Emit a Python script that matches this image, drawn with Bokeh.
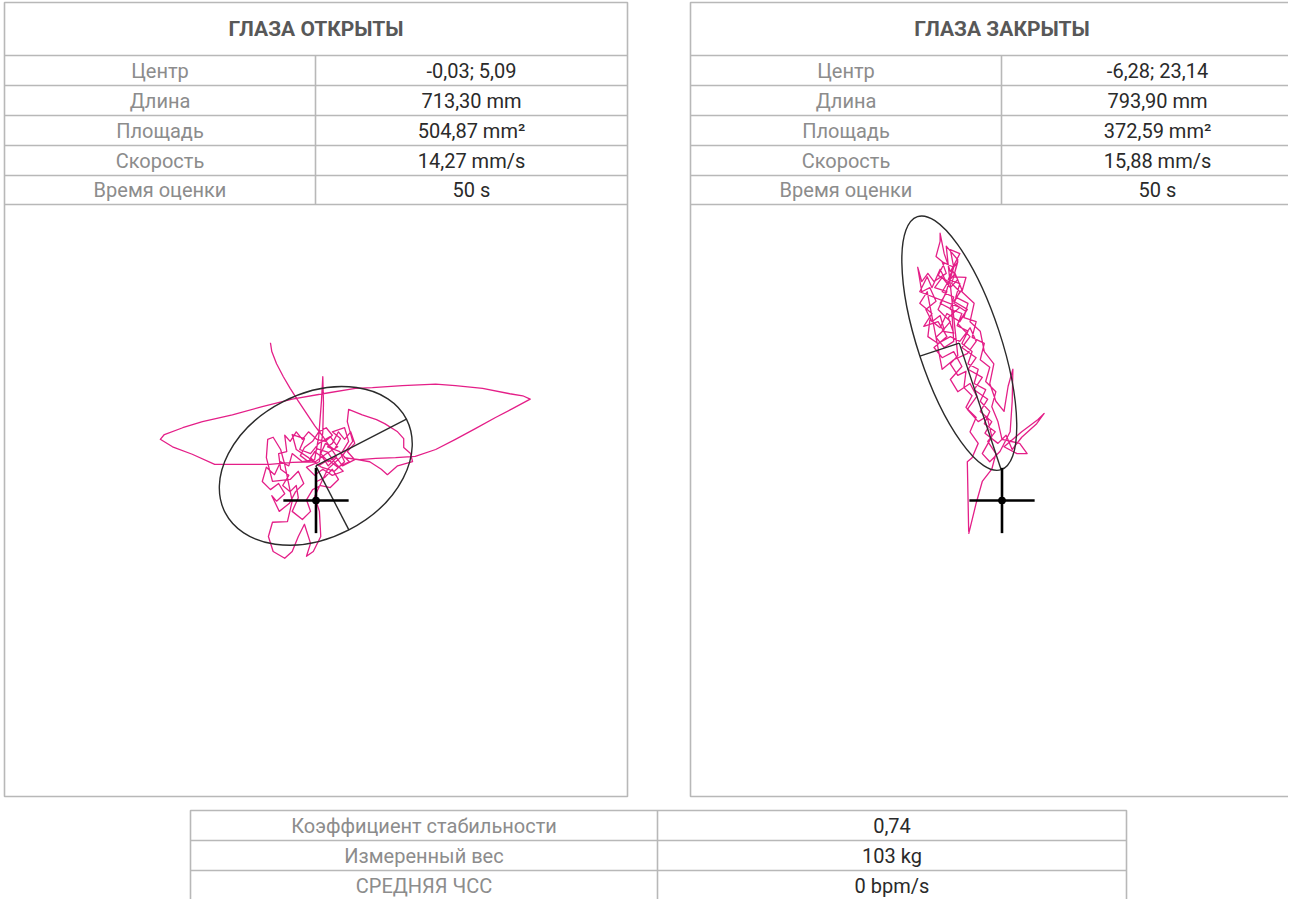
import numpy as np
from bokeh.plotting import figure
from bokeh.models import Range1d
from bokeh.embed import file_html
from bokeh.resources import INLINE
from bokeh.core.properties import value

# ---------------- data ----------------
panel_titles = ["ГЛАЗА ОТКРЫТЫ", "ГЛАЗА ЗАКРЫТЫ"]
row_labels = ["Центр", "Длина", "Площадь", "Скорость", "Время оценки"]
open_values = ["-0,03; 5,09", "713,30 mm", "504,87 mm²", "14,27 mm/s", "50 s"]
closed_values = ["-6,28; 23,14", "793,90 mm", "372,59 mm²", "15,88 mm/s", "50 s"]
summary_labels = ["Коэффициент стабильности", "Измеренный вес", "СРЕДНЯЯ ЧСС"]
summary_values = ["0,74", "103 kg", "0 bpm/s"]

# confidence ellipses (mm): centre, semi-axes, angle of major axis (deg)
open_center = [-0.03, 5.09]
closed_center = [-6.28, 23.14]
open_axes = [15.0, 10.6, 27.3]
closed_axes = [19.6, 6.1, 108.3]

# centre-of-pressure trace (mm), eyes open
open_x = [
    -6.7, -6.5, -5.8, -4.8, -3.8, -2.6, -1.4, -0.2, 1.1, 2.1, 3.0,
    1.8, 0.7, 1.4, 2.7, 3.6, 2.4, 4.2, 4.8, 3.7, 4.9, 3.2, 1.8, 0.4, -0.8, 0.2, 1.7, 2.9, 4.0, 2.4, 1.0, -0.2, -1.4,
    0.5, 1.0, 1.1, 1.0, 0.8, 0.4, -0.2,
    -2.0, -3.5, -4.0, -5.2, -6.1, -7.3, -7.9, -6.7, -5.5, -4.6, -5.8, -6.5, -5.4, -3.9, -3.0, -1.8, -2.6, -3.8,
    -6.4, -7.3, -7.1, -6.3, -5.2, -4.6,
    -3.5, -4.2, -6.4, -7.0, -6.3, -4.6, -3.5, -2.6, -1.7, -0.8, -1.4, -0.4, 0.7, 0.5, -0.2,
    1.7, 3.9, 5.4, 4.6, 4.8, 6.8, 8.9, 10.1, 12.0, 12.9, 12.9, 13.9, 14.2, 12.0, 10.5, 9.6, 7.9, 6.1, 4.2,
    6.4, 8.8, 11.7, 14.6, 17.6, 20.5, 23.5, 26.4, 28.9, 31.5, 30.4, 28.5, 24.5, 20.5, 17.6, 12.7, 8.3, 5.8, 1.0,
    -3.5, -7.9, -12.3, -16.7, -19.6, -22.3, -22.9, -21.1, -18.2, -14.9, -10.8, -6.8, -3.5, -0.1,
    1.4, 3.2, 2.1, 0.4, -0.8, -2.4, -1.7, -3.5, -2.9, -1.1, 0.8, 2.7, 4.2, 3.5, 1.7,
    2.4, 3.3, 4.2, 5.1, 5.7, 4.6, 5.7, 3.9, 3.0, 1.8, 1.0, -0.2, -1.1, -2.3, -1.7,
    -0.5, 0.4, 1.5, 2.4, 1.4, 0.1, -1.1, -2.0, -2.9, -3.8, -4.6, -4.3, -5.5, -5.2, -4.0,
    -4.9, -3.8, -2.9, -2.6, -3.5, -2.0, -0.8, -1.4, -0.5, 0.7, 2.1, 3.3, 2.4, 1.3, 0.1,
]
open_y = [
    23.2, 21.9, 20.1, 18.2, 16.5, 14.6, 12.8, 11.0, 9.3, 7.8, 6.5,
    5.7, 6.9, 8.4, 7.5, 9.1, 10.1, 10.7, 8.7, 6.9, 5.7, 4.9, 6.0, 5.1, 6.3, 7.6, 7.1, 5.4, 4.3, 3.7, 4.6, 3.7, 4.9,
    5.7, 10.1, 14.3, 18.2, 14.6, 9.4, 6.0,
    5.7, 6.9, 5.1, 5.7, 3.8, 4.9, 2.8, 1.6, 2.5, 1.0, -0.1, 0.7, -1.6, -0.4, 1.3, 2.5, 4.3, 3.1,
    2.8, 6.3, 9.0, 9.3, 7.5, 5.3,
    -0.1, -3.1, -3.2, -5.3, -7.5, -8.5, -7.5, -5.3, -3.5, -6.3, -8.2, -7.5, -5.3, -1.6, 0.6,
    4.6, 6.6, 8.7, 11.6, 13.4, 12.6, 11.9, 11.3, 10.1, 9.1, 7.8, 6.9, 5.7, 5.1, 3.8, 4.6, 5.7, 6.0, 6.3,
    6.0, 6.2, 6.3, 6.5, 7.5, 9.0, 10.6, 12.2, 13.5, 14.9, 15.4, 15.7, 16.5, 16.9, 17.1, 16.9, 16.6, 16.5, 15.7,
    14.9, 13.8, 12.6, 11.6, 10.7, 9.7, 9.0, 7.9, 6.8, 5.3, 5.3, 5.3, 5.6, 5.7,
    6.8, 7.9, 9.4, 8.4, 6.9, 7.5, 9.1, 9.7, 7.5, 6.3, 4.9, 4.3, 5.7, 7.2, 7.9,
    8.4, 10.1, 9.0, 10.1, 8.4, 7.2, 6.0, 5.1, 6.3, 5.1, 6.3, 7.2, 5.7, 6.6, 7.8,
    8.7, 10.1, 10.7, 9.6, 8.7, 9.0, 10.1, 9.0, 10.1, 8.7, 9.6, 7.2, 6.9, 4.6, 3.7,
    2.2, 1.3, 2.2, 0.4, -1.6, -2.8, -1.6, 0.1, 1.6, 2.2, 1.9, 3.1, 4.6, 3.4, 2.8,
]

# centre-of-pressure trace (mm), eyes closed
closed_x = [
    -4.9, -3.8, -2.9, -1.5, -0.9, -2.1, -1.0, -2.6, -1.8, -3.2,
    -2.4, -4.1, -3.5, -5.0, -4.4, -5.9, -5.0, -6.6, -5.9, -7.6,
    -7.1, -8.8, -7.9, -9.4, -8.5, -9.7, -9.1, -9.1, -8.5, -7.6,
    -6.5, -7.4, -6.2, -7.1, -5.3, -6.5, -4.7, -5.9, -3.8, -5.0,
    -2.9, -4.1, -2.1, -3.2, -1.5, -2.5, -0.6, 0.6, 1.5, 2.9,
    5.1, 6.2, 5.3, 2.9, 0.3, 2.2, 3.7, 2.6, 0.0, -0.6,
    -1.5, -0.9, -2.4, -1.8, -3.2, -2.6, -4.4, -3.8, -5.6, -5.0,
    -6.8, -6.2, -7.9, -7.1, -8.8, -8.2, -10.0, -10.9, -11.8, -12.4,
    -11.8, -10.6, -9.7, -11.2, -10.3, -9.1, -8.5, -9.7, -8.5, -7.1,
    -7.4, -9.1, -8.1, -9.9, -8.8, -7.6, -6.5, -7.4, -6.2, -7.6, -7.1, -8.2, -9.4, -7.6, -8.8, -7.1, -7.9, -6.2,
    -12.1, -11.0, -10.3, -9.1, -8.1, -6.9, -5.9, -7.1, -5.1, -6.2, -8.1,
    -9.1, -10.6, -10.9, -9.4, -7.6, -6.2, -4.7, -3.8, -5.1, -7.1, -8.8,
    -11.0, -12.1, -10.3, -11.5, -9.4, -8.1, -10.0, -8.8, -7.1, -5.9, -7.6, -6.5, -4.7,
    -3.7, -5.1, -3.5, -2.2, -1.5, -2.9, -1.8, -0.3, 1.2, 1.5, 1.6, 0.9, 0.3,
    -0.9, -1.8, -1.2, -2.6, -3.2, -4.7, -4.1, -5.9, -5.3, -7.1, -6.5, -8.2,
    -6.5, -7.6, -6.5, -5.3, -5.6, -4.4, -5.3, -3.8, -4.7, -3.5, -4.4, -5.1, -4.9,
]
closed_y = [
    -4.9, -0.4, 2.8, 4.6, 6.9, 8.7, 10.1, 11.3, 13.1, 14.6,
    16.3, 17.2, 19.3, 20.1, 21.9, 23.1, 24.9, 25.7, 27.5, 28.1,
    29.9, 30.7, 32.2, 33.1, 34.9, 35.9, 38.1, 39.3, 36.3, 33.7,
    35.1, 31.9, 30.7, 29.0, 27.8, 26.0, 24.1, 22.5, 21.0, 19.3,
    18.1, 16.3, 14.9, 13.1, 11.6, 9.9, 8.4, 9.6, 7.5, 9.3,
    11.3, 12.8, 11.9, 10.1, 7.9, 6.9, 6.9, 8.4, 9.0, 11.6,
    13.8, 16.0, 17.5, 19.6, 20.7, 23.1, 24.0, 26.3, 26.9, 29.0,
    29.9, 31.9, 32.5, 34.3, 35.1, 33.4, 32.2, 33.4, 32.2, 34.3,
    30.7, 31.3, 29.3, 28.1, 26.3, 27.2, 25.1, 24.0, 22.5, 23.4,
    28.1, 29.0, 30.7, 31.3, 32.8, 31.3, 32.5, 34.0, 36.3, 36.9, 34.3, 30.7, 28.1, 26.3, 24.9, 24.6, 26.9, 28.4,
    30.7, 32.9, 31.3, 34.0, 31.9, 33.4, 31.0, 29.3, 28.1, 26.3, 27.5,
    25.4, 26.6, 24.1, 23.1, 24.1, 23.4, 25.4, 23.4, 21.6, 20.7, 19.3,
    30.7, 29.0, 27.5, 25.6, 26.3, 24.1, 22.5, 21.0, 21.9, 19.7, 17.8, 16.0, 17.2,
    15.3, 13.4, 11.6, 12.4, 9.4, 6.9, 5.7, 7.2, 10.1, 14.6, 19.3, 16.8, 13.1,
    14.6, 17.2, 20.1, 21.9, 24.9, 26.3, 29.0, 30.7, 32.8, 32.9, 35.4, 37.4,
    21.3, 20.1, 18.4, 19.0, 16.6, 15.4, 13.7, 12.2, 10.1, 8.4, 6.3, 5.7, -4.6,
]

# ---------------- layout (pixels) ----------------
W, H = 1288, 899
PX_PER_MM = 6.8
PANEL_LEFT = [4, 690]
PANEL_W = 623
LABEL_W = 311
PANEL_TOP = 2
PANEL_BOTTOM = 796
ROW_EDGES = [55, 85, 115, 145, 175, 204]
SUM_LEFT, SUM_SPLIT, SUM_RIGHT = 190, 657, 1126
SUM_EDGES = [810, 840, 870, 900]
ORIGIN_Y = (ROW_EDGES[-1] + PANEL_BOTTOM) / 2
CROSS = 4.8  # mm half-length of the platform cross

GRID_COLOR = "#b8b8b8"
TRACE_COLOR = "#e41f88"
FONT = value("Roboto")

p = figure(width=W, height=H, output_backend="svg", toolbar_location=None,
           x_range=Range1d(0, W), y_range=Range1d(H, 0),
           x_axis_location=None, y_axis_location=None,
           min_border=0, title=None)
p.grid.grid_line_color = None
p.outline_line_color = None
p.background_fill_color = "white"
p.border_fill_color = "white"

s = PX_PER_MM
p.extra_y_ranges = {"mm": Range1d(-(H - ORIGIN_Y) / s, ORIGIN_Y / s)}
xr = {}
for name, left in zip(["open", "closed"], PANEL_LEFT):
    cx = left + PANEL_W / 2
    xr[name] = Range1d(-cx / s, (W - cx) / s)
p.extra_x_ranges = xr

# ---------------- tables ----------------
for left in PANEL_LEFT:
    p.quad(left=[left], right=[left + PANEL_W], top=[PANEL_TOP], bottom=[PANEL_BOTTOM],
           fill_color=None, line_color=GRID_COLOR, line_width=1.6)
    p.segment(x0=[left] * len(ROW_EDGES), x1=[left + PANEL_W] * len(ROW_EDGES),
              y0=ROW_EDGES, y1=ROW_EDGES, line_color=GRID_COLOR, line_width=1.6)
    p.segment(x0=[left + LABEL_W], x1=[left + LABEL_W], y0=[ROW_EDGES[0]], y1=[ROW_EDGES[-1]],
              line_color=GRID_COLOR, line_width=1.6)

p.quad(left=[SUM_LEFT], right=[SUM_RIGHT], top=[SUM_EDGES[0]], bottom=[SUM_EDGES[-1]],
       fill_color=None, line_color=GRID_COLOR, line_width=1.6)
p.segment(x0=[SUM_LEFT] * 2, x1=[SUM_RIGHT] * 2, y0=SUM_EDGES[1:3], y1=SUM_EDGES[1:3],
          line_color=GRID_COLOR, line_width=1.6)
p.segment(x0=[SUM_SPLIT], x1=[SUM_SPLIT], y0=[SUM_EDGES[0]], y1=[SUM_EDGES[-1]],
          line_color=GRID_COLOR, line_width=1.6)

# texts
p.text(x=[l + PANEL_W / 2 for l in PANEL_LEFT], y=[(PANEL_TOP + ROW_EDGES[0]) / 2] * 2,
       text=panel_titles, text_font=FONT, text_font_style="bold", text_font_size=value("21px"),
       text_color="#585858", text_align="center", text_baseline="middle")

row_mid = [(a + b) / 2 for a, b in zip(ROW_EDGES[:-1], ROW_EDGES[1:])]
for left, vals in zip(PANEL_LEFT, [open_values, closed_values]):
    p.text(x=[left + LABEL_W / 2] * len(row_labels), y=row_mid, text=row_labels,
           text_font=FONT, text_font_size=value("20px"), text_color="#8c8c8c",
           text_align="center", text_baseline="middle")
    p.text(x=[left + LABEL_W + (PANEL_W - LABEL_W) / 2] * len(vals), y=row_mid, text=vals,
           text_font=FONT, text_font_size=value("20px"), text_color="#2a2a2a",
           text_align="center", text_baseline="middle")

sum_mid = [(a + b) / 2 for a, b in zip(SUM_EDGES[:-1], SUM_EDGES[1:])]
p.text(x=[(SUM_LEFT + SUM_SPLIT) / 2] * 3, y=sum_mid, text=summary_labels,
       text_font=FONT, text_font_size=value("20px"), text_color="#8c8c8c",
       text_align="center", text_baseline="middle")
p.text(x=[(SUM_SPLIT + SUM_RIGHT) / 2] * 3, y=sum_mid, text=summary_values,
       text_font=FONT, text_font_size=value("20px"), text_color="#2a2a2a",
       text_align="center", text_baseline="middle")

# ---------------- stabilograms ----------------
panels = [
    ("open", open_x, open_y, open_center, open_axes, 1, -1),
    ("closed", closed_x, closed_y, closed_center, closed_axes, -1, 1),
]
for name, xs, ys, c, ax, sgn_major, sgn_minor in panels:
    p.line(xs, ys, line_color=TRACE_COLOR, line_width=1.3, line_join="round",
           x_range_name=name, y_range_name="mm")
    a, b, ang = ax
    th = np.deg2rad(ang)
    p.ellipse(x=[c[0]], y=[c[1]], width=[2 * a], height=[2 * b], angle=[th],
              fill_color=None, line_color="#2b2b2b", line_width=1.4,
              x_range_name=name, y_range_name="mm")
    mx = c[0] + sgn_major * a * np.cos(th)
    my = c[1] + sgn_major * a * np.sin(th)
    nx = c[0] + sgn_minor * b * np.cos(th + np.pi / 2)
    ny = c[1] + sgn_minor * b * np.sin(th + np.pi / 2)
    p.segment(x0=[c[0], c[0]], y0=[c[1], c[1]], x1=[mx, nx], y1=[my, ny],
              line_color="#2b2b2b", line_width=1.4, x_range_name=name, y_range_name="mm")
    p.segment(x0=[-CROSS, 0], y0=[0, -CROSS], x1=[CROSS, 0], y1=[0, CROSS],
              line_color="black", line_width=2.6, x_range_name=name, y_range_name="mm")
    p.scatter(x=[0], y=[0], size=7, color="black", x_range_name=name, y_range_name="mm")

open("out.html", "w").write(file_html(p, INLINE))
